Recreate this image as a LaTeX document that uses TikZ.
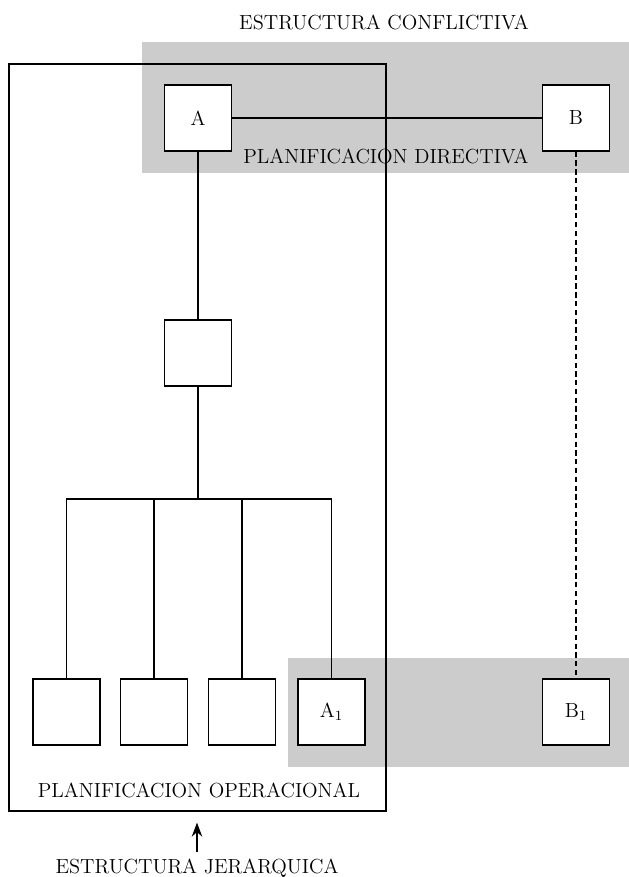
\documentclass[tikz,border=0pt]{standalone}
\usetikzlibrary{arrows.meta}

\begin{document}
\begin{tikzpicture}[x=0.02cm,y=-0.02cm,line width=0.6pt]

      \useasboundingbox (0,0) rectangle (629,877);

      % sombreado
      \fill[black!20] (142,42) rectangle (629,173);
      \fill[black!20] (288,658) rectangle (629,767);

      \node[draw,line width=0.8pt,minimum width=7.54cm,minimum height=14.94cm] (marco) at (197.5,437.5) {};

      \begin{scope}[every node/.style={draw,fill=white,line width=0.8pt,minimum width=1.34cm,minimum height=1.32cm,font=\fontsize{11.6}{13}\selectfont}]
        \node (A)  at (198,118)   {A};
        \node (B)  at (576,118)   {B};
        \node (M)  at (198,353)   {};
        \node (H1) at (66.5,712)  {};
        \node (H2) at (154,712)   {};
        \node (H3) at (242,712)   {};
        \node (A1) at (331.5,712) {A$_1$};
        \node (B1) at (576,712)   {B$_1$};
      \end{scope}

      \begin{scope}[every node/.style={font=\fontsize{11.6}{13}\selectfont}]
        \node (ec) at (384,22)  {ESTRUCTURA CONFLICTIVA};
        \node (pd) at (386,156) {PLANIFICACION DIRECTIVA};
        \node (po) at (199,790) {PLANIFICACION OPERACIONAL};
        \node (ej) at (197,868) {ESTRUCTURA JERARQUICA};
      \end{scope}

      \coordinate (bus) at (198,499);

      \path (A) edge (B);
      \path (A) edge (M);
      \path (B) edge[dash pattern=on 3pt off 2pt] (B1);
      \draw (M) -- (bus);
      \draw (H1.north) |- (bus) -| (A1.north);
      \draw (H2.north) -- (H2 |- bus);
      \draw (H3.north) -- (H3 |- bus);

      \draw[-{Stealth[length=8pt,width=6pt]},shorten >=0.22cm] (ej.north) -- (ej.north |- marco.south);

    \end{tikzpicture}
\end{document}
